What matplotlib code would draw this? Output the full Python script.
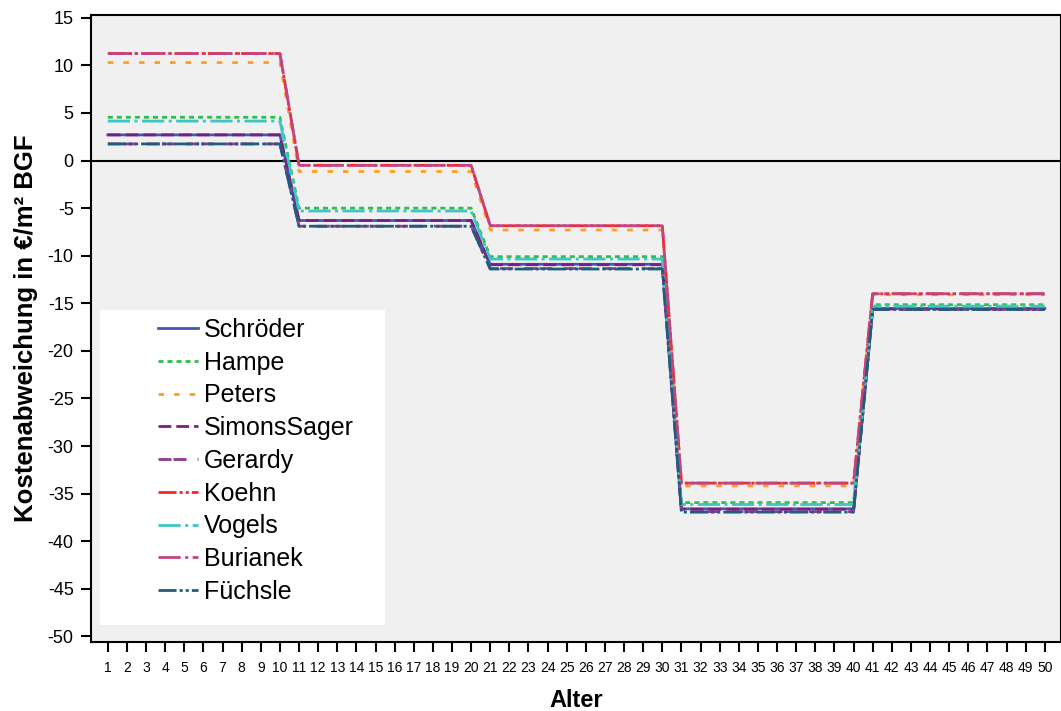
import numpy as np
import matplotlib
matplotlib.use('Agg')
import matplotlib.pyplot as plt
from matplotlib.patches import Rectangle

plt.rcParams['font.family'] = ['Liberation Sans', 'DejaVu Sans']

# Alter 1..50
alter = np.arange(1, 51)

# Werte je Jahrzehnt (Alter 1-10, 11-20, 21-30, 31-40, 41-50)
schroeder = [2.7, -6.3, -10.9, -36.6, -15.55]
hampe = [4.55, -5.0, -10.1, -35.95, -15.15]
peters = [10.3, -1.15, -7.3, -34.2, -14.1]
simonssager = [2.7, -6.3, -10.95, -36.65, -15.6]
gerardy = [1.75, -6.9, -11.35, -36.9, -15.65]
koehn = [11.25, -0.5, -6.85, -33.9, -14.0]
vogels = [4.15, -5.3, -10.35, -36.15, -15.3]
burianek = [11.25, -0.5, -6.85, -33.9, -14.0]
fuechsle = [1.75, -6.9, -11.4, -36.95, -15.65]

names = ['Schröder', 'Hampe', 'Peters', 'SimonsSager', 'Gerardy',
         'Koehn', 'Vogels', 'Burianek', 'Füchsle']
series = [schroeder, hampe, peters, simonssager, gerardy,
          koehn, vogels, burianek, fuechsle]
colors = ['#4059b5', '#2ebd4e', '#ff9f20', '#7a1f82', '#8c3b92',
          '#f5262e', '#40c4c4', '#c04580', '#1f5d7a']
dashes = [None, (1.8, 1.45), (2, 3.6), (4.6, 1.8), (4.7, 0.7, 4.7, 4),
          (6.5, 1.1, 1.1, 1.1, 1.1, 1.1), (8, 1.6, 1.1, 1.6), (8, 1.6, 1.1, 1.6),
          (6.5, 1.1, 1.1, 1.1, 1.1, 1.1)]

fig = plt.figure(figsize=(10.61, 7.11), dpi=100)
ax = fig.add_axes([91 / 1061, 69 / 711, 970 / 1061, 627 / 711])
ax.set_facecolor('#f0f0f0')

ax.axhline(0, color='black', lw=1.5, zorder=1)

handles = []
for name, vals, c, d in zip(names, series, colors, dashes):
    y = np.repeat(vals, 10)
    line, = ax.plot(alter, y, color=c, lw=2, label=name, zorder=2)
    if d is not None:
        line.set_dashes(d)
    handles.append(line)

ax.set_xlim(0.12, 50.85)
ax.set_ylim(-50.6, 15.3)
ax.set_xticks(alter)
ax.set_xticklabels([str(a) for a in alter], fontsize=10)
yt = np.arange(-50, 16, 5)
ax.set_yticks(yt)
ax.set_yticklabels([str(v) for v in yt], fontsize=13)
ax.tick_params(axis='both', direction='out', length=7.5, width=1.5, color='black')
ax.tick_params(axis='x', pad=6)
ax.tick_params(axis='y', pad=5)
for s in ax.spines.values():
    s.set_color('black')
    s.set_linewidth(1.5)

ax.set_xlabel('Alter', fontsize=17, fontweight='bold', labelpad=10)
ax.set_ylabel('Kostenabweichung in €/m² BGF', fontsize=18.5, fontweight='bold')
ax.yaxis.set_label_coords(-0.055, 0.5)

# weisser Kasten hinter der Legende
ax.add_patch(Rectangle((0.009, 0.027), 0.294, 0.503, transform=ax.transAxes,
                       facecolor='white', edgecolor='none', zorder=3))
leg = ax.legend(handles=handles, loc='upper left', bbox_to_anchor=(0.069, 0.517),
                frameon=False, fontsize=18, handlelength=1.6, handletextpad=0.25,
                labelspacing=0.35, borderpad=0, borderaxespad=0)
leg.set_zorder(4)

fig.savefig('out.png', dpi=100)
